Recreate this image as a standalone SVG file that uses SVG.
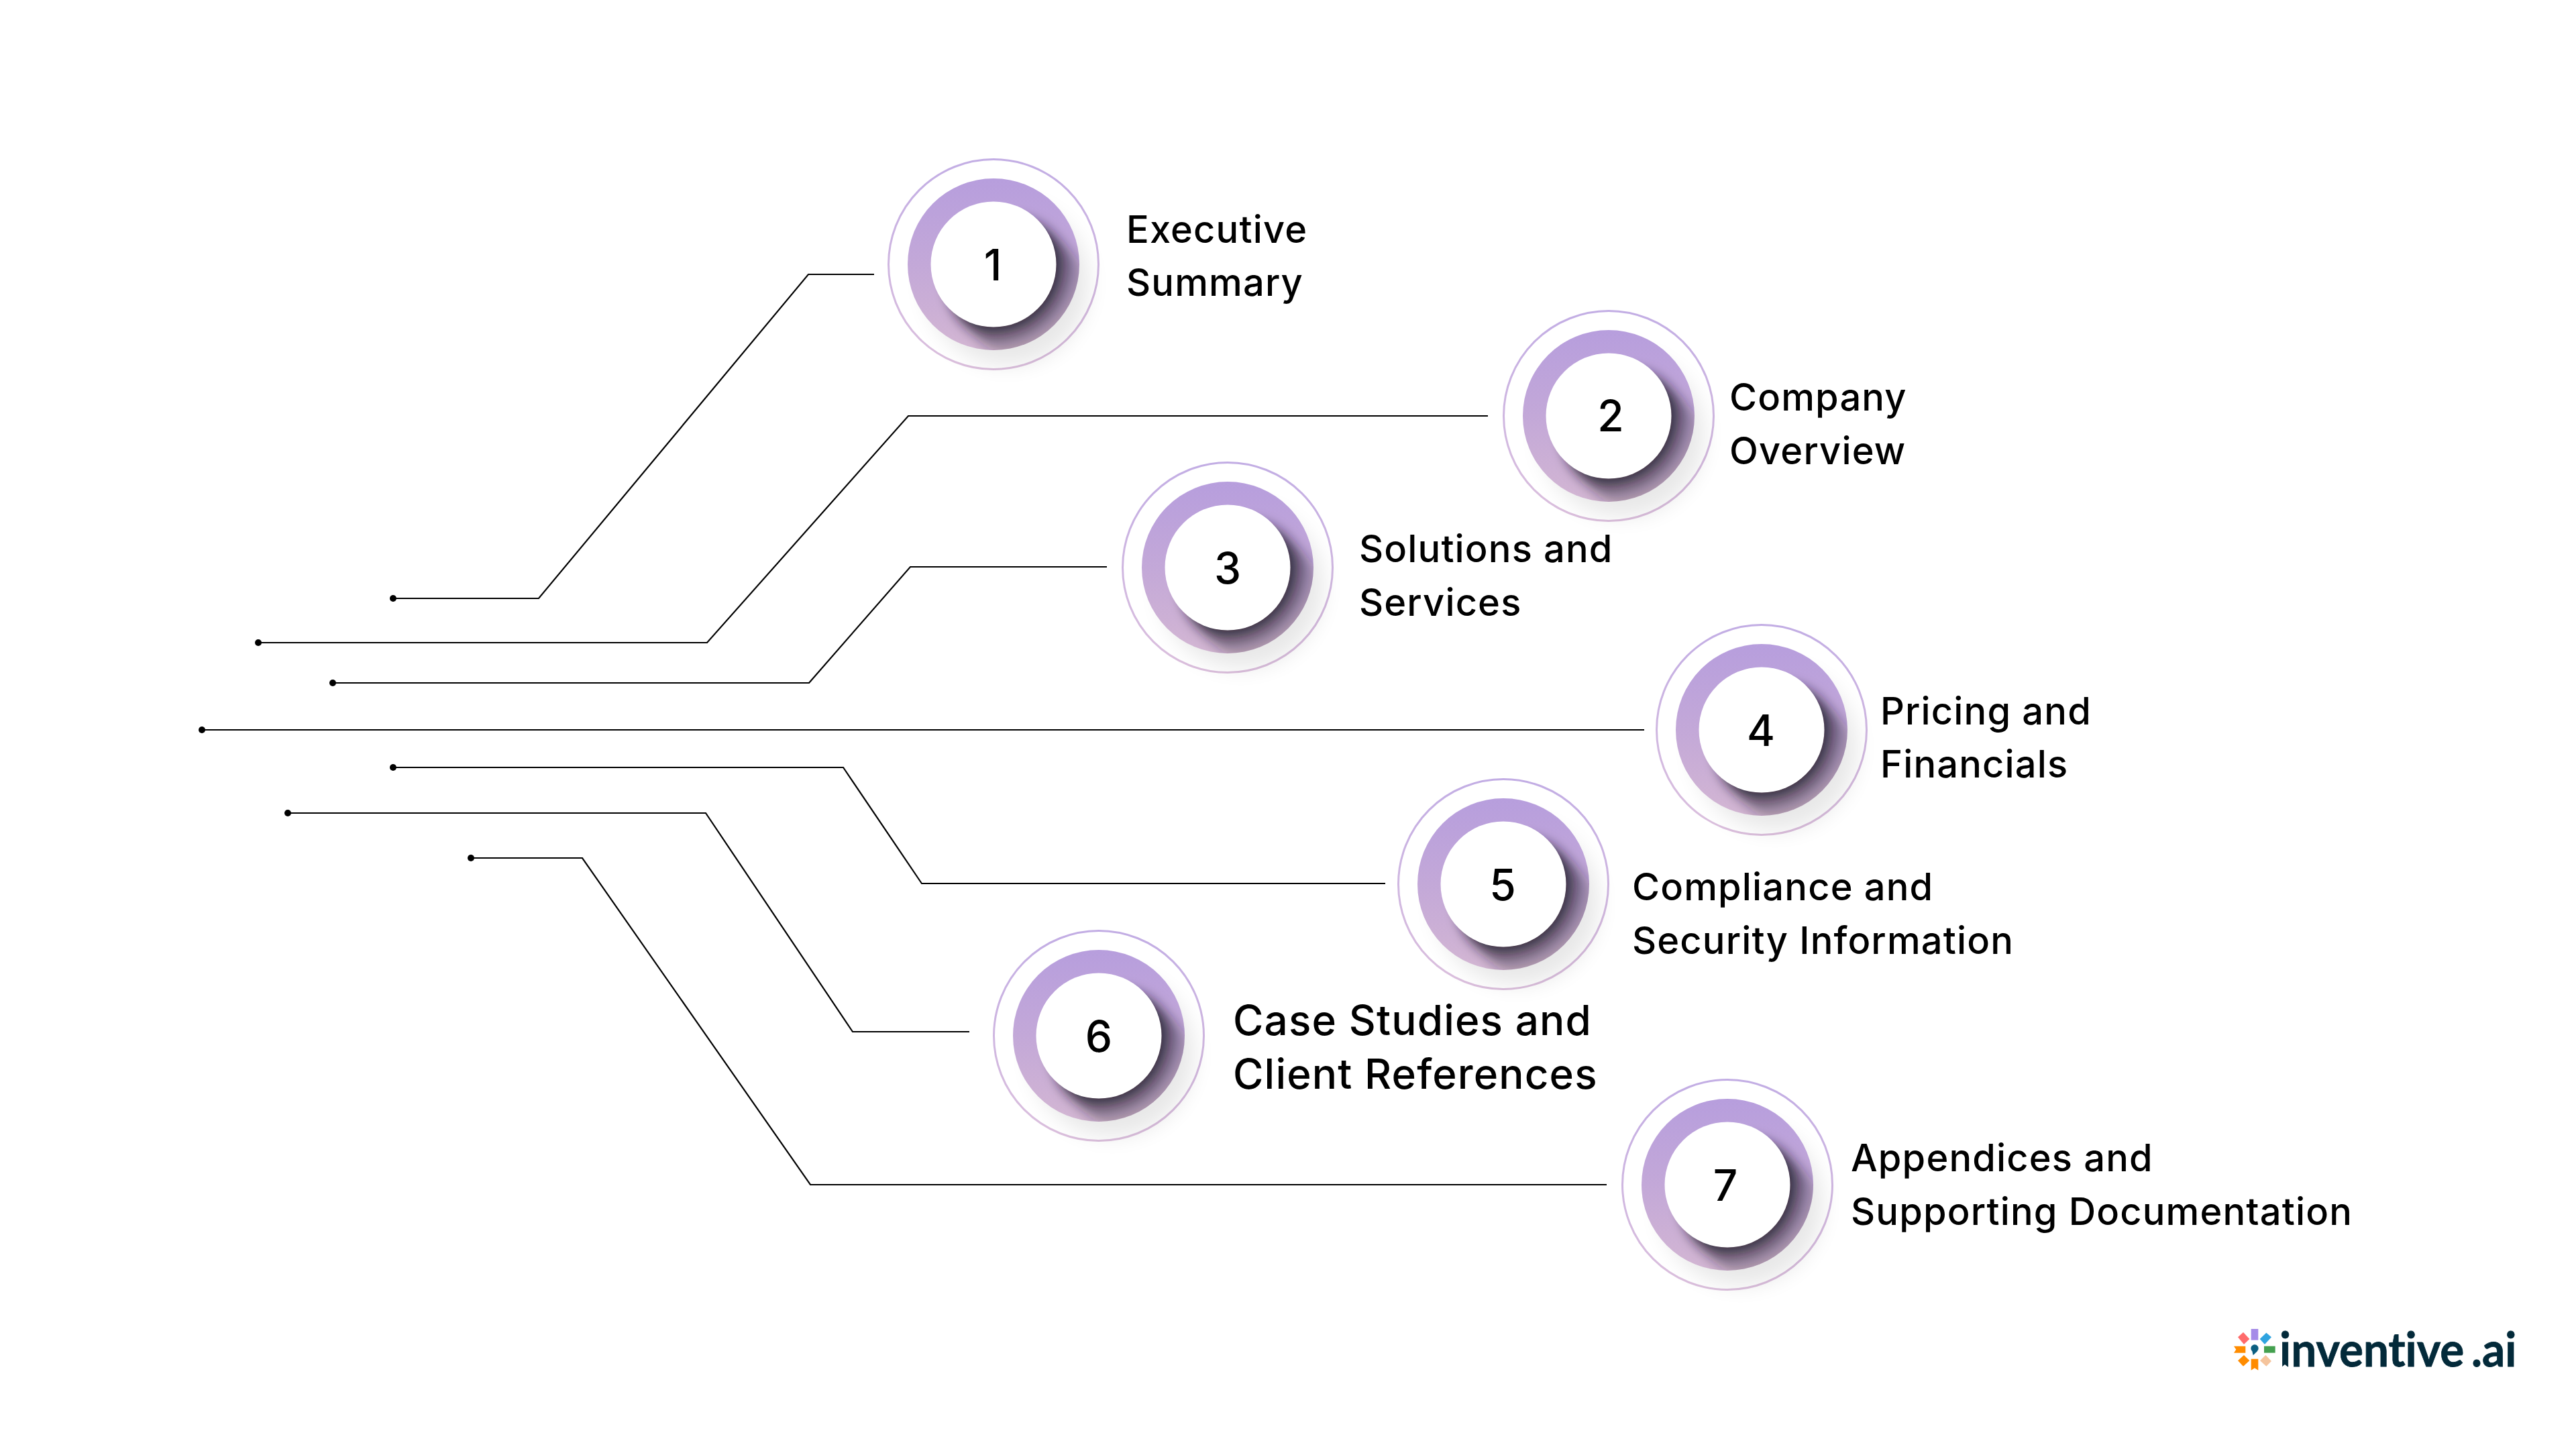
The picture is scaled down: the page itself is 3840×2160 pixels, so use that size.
<svg xmlns="http://www.w3.org/2000/svg" xmlns:xlink="http://www.w3.org/1999/xlink" width="3840" height="2160" viewBox="0 0 3840 2160">
<style>
.conn{fill:none;stroke:#000;stroke-width:2.2;marker-start:url(#dot)}
.lbl{font-family:"Inter","Liberation Sans",sans-serif;font-size:56px;font-weight:450;letter-spacing:1.15px;fill:#000}
.lbl6{font-size:62px}
.num{font-family:"Inter","Liberation Sans",sans-serif;font-size:64px;font-weight:450;fill:#000;text-anchor:middle}
.logo{font-family:"Lato","Noto Sans",sans-serif;font-weight:700;font-size:71px;fill:#032A3A;stroke:#032A3A;stroke-width:.8;font-variant-ligatures:none}
</style>
<defs>
<marker id="dot" markerUnits="userSpaceOnUse" markerWidth="12" markerHeight="12" refX="6" refY="6" viewBox="0 0 12 12"><circle cx="6" cy="6" r="5" fill="#000"/></marker>
<linearGradient id="ringG" gradientUnits="userSpaceOnUse" x1="0" y1="-158" x2="0" y2="158"><stop offset="0" stop-color="#C2ADE4"/><stop offset="1" stop-color="#DCC0DD"/></linearGradient>
<linearGradient id="discG" gradientUnits="userSpaceOnUse" x1="0" y1="-128" x2="0" y2="128"><stop offset="0" stop-color="#B79EDD"/><stop offset=".5" stop-color="#C3A8D8"/><stop offset="1" stop-color="#D3B6D3"/></linearGradient>
<radialGradient id="castG" gradientUnits="userSpaceOnUse" cx="0" cy="0" r="130"><stop offset=".7" stop-color="#1E1A28" stop-opacity=".9"/><stop offset=".84" stop-color="#1E1A28" stop-opacity=".45"/><stop offset="1" stop-color="#1E1A28" stop-opacity=".16"/></radialGradient>
<clipPath id="discClip"><circle r="128"/></clipPath>
<filter id="b8" filterUnits="userSpaceOnUse" x="-260" y="-260" width="520" height="520"><feGaussianBlur stdDeviation="9"/></filter>
<filter id="b18" filterUnits="userSpaceOnUse" x="-260" y="-260" width="520" height="520"><feGaussianBlur stdDeviation="16"/></filter>
<g id="badge">
<circle r="156.5" fill="#fff" stroke="url(#ringG)" stroke-width="3"/>
<circle cx="20" cy="28" r="122" fill="#000" opacity=".09" filter="url(#b18)"/>
<circle r="128" fill="url(#discG)"/>
<g clip-path="url(#discClip)"><path d="M24 24L55 55" stroke="url(#castG)" stroke-width="187" stroke-linecap="round" fill="none" filter="url(#b8)"/></g>
<circle r="93.5" fill="#fff"/>
</g>
</defs>
<rect width="3840" height="2160" fill="#fff"/>
<g id="connectors">
<polyline class="conn" points="586,892 803,892 1205,409 1303,409"/>
<polyline class="conn" points="385,958 1054,958 1354,620 2218,620"/>
<polyline class="conn" points="496,1018 1206,1018 1357,845 1650,845"/>
<polyline class="conn" points="301,1088 2451,1088"/>
<polyline class="conn" points="586,1144 1257,1144 1374,1317 2065,1317"/>
<polyline class="conn" points="429,1212 1052,1212 1271,1538 1445,1538"/>
<polyline class="conn" points="702,1279 868,1279 1208,1766 2395,1766"/>
</g>
<g id="node-1"><use href="#badge" x="1481" y="394"/><text class="num" x="1480" y="418">1</text><text class="lbl" x="1679" y="362">Executive<tspan x="1679" y="441">Summary</tspan></text></g>
<g id="node-2"><use href="#badge" x="2398" y="620"/><text class="num" x="2401" y="643">2</text><text class="lbl" x="2578" y="612">Company<tspan x="2578" y="692">Overview</tspan></text></g>
<g id="node-3"><use href="#badge" x="1830" y="846"/><text class="num" x="1830" y="870">3</text><text class="lbl" x="2026" y="838">Solutions and<tspan x="2026" y="918">Services</tspan></text></g>
<g id="node-4"><use href="#badge" x="2626" y="1088"/><text class="num" x="2625" y="1112">4</text><text class="lbl" x="2803" y="1080">Pricing and<tspan x="2803" y="1159">Financials</tspan></text></g>
<g id="node-5"><use href="#badge" x="2241" y="1318"/><text class="num" x="2240" y="1342">5</text><text class="lbl" x="2433" y="1342">Compliance and<tspan x="2433" y="1422">Security Information</tspan></text></g>
<g id="node-6"><use href="#badge" x="1638" y="1544"/><text class="num" x="1638" y="1568">6</text><text class="lbl lbl6" x="1838" y="1543">Case Studies and<tspan x="1838" y="1623">Client References</tspan></text></g>
<g id="node-7"><use href="#badge" x="2575" y="1766"/><text class="num" x="2572" y="1790">7</text><text class="lbl" x="2759" y="1746">Appendices and<tspan x="2759" y="1826">Supporting Documentation</tspan></text></g>
<g id="logo">
<g transform="translate(3300,1960) scale(.3333)">
<rect x="167" y="63" width="32" height="50" fill="#A58BE8"/>
<rect x="225" y="140" width="50" height="30" fill="#44A04F"/>
<polygon points="167,197 199,197 199,248 183,238 167,248" fill="#FF8C00"/>
<polygon points="142,140 142,170 90,170 100,155 90,140" fill="#FF8C00"/>
<polygon points="108,100 132,78 160,108 135,132" fill="#FF6B6B"/>
<polygon points="206,108 235,80 258,100 228,132" fill="#2FA4E0"/>
<polygon points="108,205 135,180 160,205 132,230" fill="#FF8C00"/>
<polygon points="207,205 232,180 258,207 235,230" fill="#F5C49C"/>
<circle cx="183" cy="150" r="17" fill="#0B5E80"/>
<polygon points="172,163 195,163 176,181" fill="#0B5E80"/>
</g>
<text class="logo" transform="translate(3398,2037) scale(.95,1)">inventive<tspan x="301">.ai</tspan></text>
<polygon points="3401,2038 3411,2038 3406,2034" fill="#fff"/>
</g>
</svg>
